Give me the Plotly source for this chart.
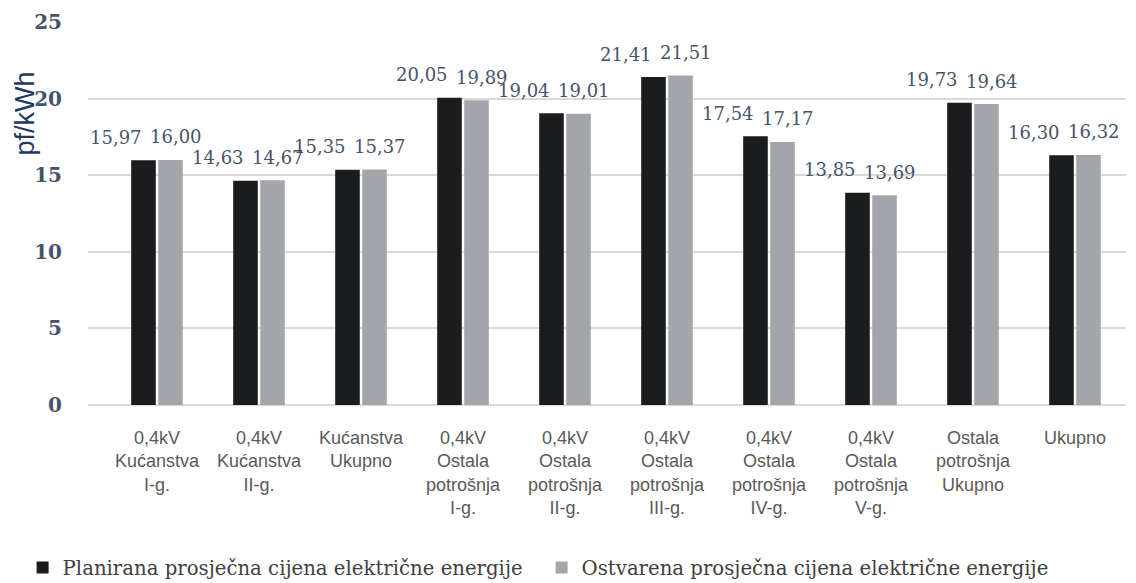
import plotly.graph_objects as go

categories = [
    "0,4kV<br>Kućanstva<br>I-g.",
    "0,4kV<br>Kućanstva<br>II-g.",
    "Kućanstva<br>Ukupno",
    "0,4kV<br>Ostala<br>potrošnja<br>I-g.",
    "0,4kV<br>Ostala<br>potrošnja<br>II-g.",
    "0,4kV<br>Ostala<br>potrošnja<br>III-g.",
    "0,4kV<br>Ostala<br>potrošnja<br>IV-g.",
    "0,4kV<br>Ostala<br>potrošnja<br>V-g.",
    "Ostala<br>potrošnja<br>Ukupno",
    "Ukupno",
]
planned = [15.97, 14.63, 15.35, 20.05, 19.04, 21.41, 17.54, 13.85, 19.73, 16.30]
actual = [16.00, 14.67, 15.37, 19.89, 19.01, 21.51, 17.17, 13.69, 19.64, 16.32]
series_names = [
    "Planirana prosječna cijena električne energije",
    "Ostvarena prosječna cijena električne energije",
]
y_ticks = [0, 5, 10, 15, 20, 25]

def fmt(v):
    return f"{v:.2f}".replace(".", ",")

SERIF = "DejaVu Serif"
label_font = dict(family=SERIF, size=18, color="#44546A")

fig = go.Figure()
fig.add_trace(go.Bar(
    x=categories, y=planned, name=series_names[0],
    marker=dict(color="#1B1C1E", line=dict(width=0)),
))
fig.add_trace(go.Bar(
    x=categories, y=actual, name=series_names[1],
    marker=dict(color="#A2A5AA", line=dict(width=0)),
))

annotations = []
for cat, p, a in zip(categories, planned, actual):
    annotations.append(dict(
        x=cat, y=p, xref="x", yref="y", text=fmt(p), showarrow=False,
        xanchor="center", yanchor="middle", xshift=-41, yshift=23,
        font=label_font,
    ))
    annotations.append(dict(
        x=cat, y=a, xref="x", yref="y", text=fmt(a), showarrow=False,
        xanchor="center", yanchor="middle", xshift=19, yshift=23,
        font=label_font,
    ))
annotations.append(dict(
    text="pf/kWh", xref="paper", yref="paper",
    x=-0.061, y=0.76, xanchor="center", yanchor="middle",
    textangle=-90, showarrow=False,
    font=dict(family="Liberation Sans", size=27, color="#1F3864"),
))

# The page body adds an 8px offset, so margins are reduced by 8px on top/left.
fig.update_layout(
    width=1136, height=583,
    paper_bgcolor="white", plot_bgcolor="white",
    margin=dict(l=80, r=18, t=14, b=186, autoexpand=False),
    barmode="group", bargap=0.47, bargroupgap=0.09,
    showlegend=True,
    legend=dict(
        orientation="h", x=-0.063, xanchor="left", y=-0.425, yanchor="middle",
        font=dict(family=SERIF, size=19.7, color="#404040"),
        entrywidth=474, entrywidthmode="pixels",
        itemsizing="constant", itemwidth=30,
    ),
    xaxis=dict(
        tickfont=dict(family="Liberation Sans", size=18, color="#595959"),
        showgrid=False, showline=False, ticks="", automargin=False,
        ticklabelstandoff=20,
    ),
    yaxis=dict(
        range=[0, 25], tickvals=y_ticks,
        tickfont=dict(family=SERIF, size=20, color="#44546A", weight="bold"),
        showgrid=True, gridcolor="#D9D9D9", gridwidth=1.5,
        zeroline=True, zerolinecolor="#D9D9D9", zerolinewidth=1.5,
        showline=False, ticks="", ticklabelstandoff=25, automargin=False,
    ),
    annotations=annotations,
)

fig.write_html("out.html")
